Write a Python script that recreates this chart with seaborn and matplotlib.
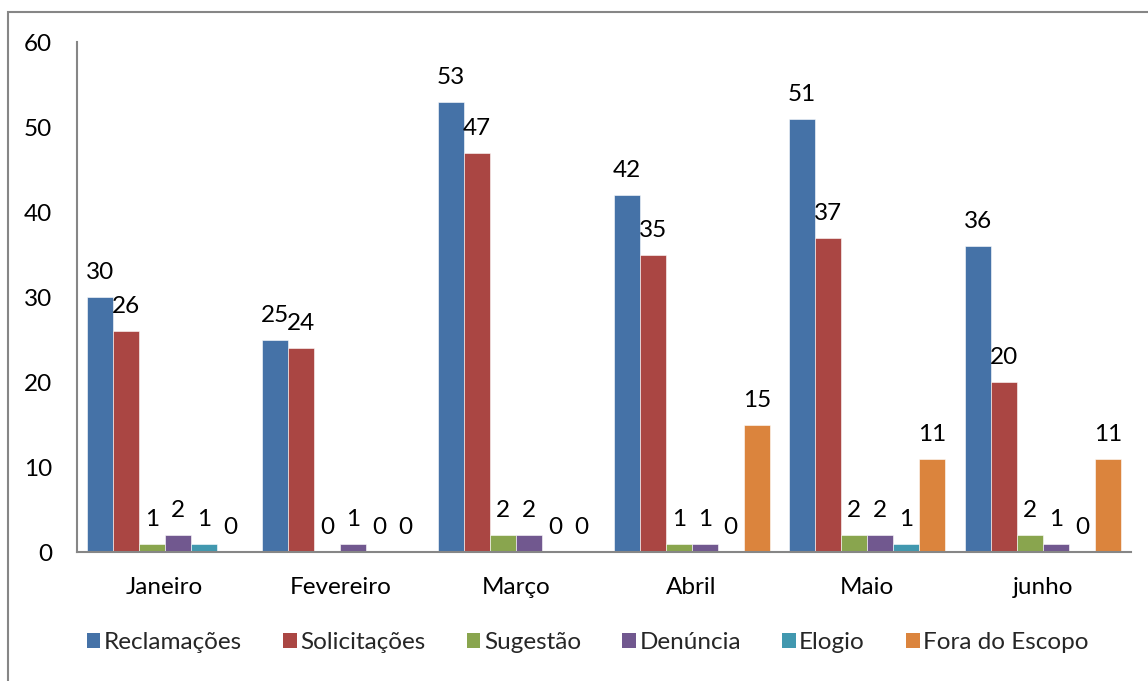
'''
Grouped bar chart of ombudsman records per month (Janeiro - junho)
'''
import matplotlib
matplotlib.use('Agg')
import matplotlib.pyplot as plt
from matplotlib.patches import Rectangle, Patch
import pandas as pd
import seaborn as sns

# categories and series
meses = ['Janeiro', 'Fevereiro', 'Março', 'Abril', 'Maio', 'junho']
tipos = ['Reclamações', 'Solicitações', 'Sugestão', 'Denúncia',
         'Elogio', 'Fora do Escopo']

reclamacoes = [30, 25, 53, 42, 51, 36]
solicitacoes = [26, 24, 47, 35, 37, 20]
sugestao = [1, 0, 2, 1, 2, 2]
denuncia = [2, 1, 2, 1, 2, 1]
elogio = [1, 0, 0, 0, 1, 0]
fora_escopo = [0, 0, 0, 15, 11, 11]

cores = ['#4572A7', '#AA4643', '#89A54E', '#71588F', '#4198AF', '#DB843D']

# long-form table for seaborn
series = [reclamacoes, solicitacoes, sugestao, denuncia, elogio, fora_escopo]
rows = []
for tipo, valores in zip(tipos, series):
    for mes, val in zip(meses, valores):
        rows.append({'Mês': mes, 'Tipo': tipo, 'Valor': val})
df = pd.DataFrame(rows)

sns.set_theme(style='white')
plt.rcParams['font.family'] = ['Lato', 'DejaVu Sans']
FS = 17.5

fig = plt.figure(figsize=(11.48, 6.81), dpi=100)
ax = fig.add_axes([0.067, 0.189, 0.918, 0.749])

sns.barplot(data=df, x='Mês', y='Valor', hue='Tipo', order=meses,
            hue_order=tipos, palette=cores, saturation=1, width=0.89,
            gap=0, ax=ax, legend=False, errorbar=None,
            edgecolor='white', linewidth=0.4)

# data labels
for cont in ax.containers:
    ax.bar_label(cont, padding=10, fontsize=FS, color='black')

ax.set_ylim(0, 60)
ax.set_xlim(-0.5, 5.5)
ax.set_yticks(range(0, 61, 10))
ax.set_xlabel('')
ax.set_ylabel('')
ax.tick_params(axis='y', length=0, pad=18, labelsize=FS, labelcolor='black')
ax.tick_params(axis='x', length=0, pad=18, labelsize=FS, labelcolor='black')

for side in ['top', 'right']:
    ax.spines[side].set_visible(False)
for side in ['left', 'bottom']:
    ax.spines[side].set_color('#868686')
    ax.spines[side].set_linewidth(1.5)

# legend
handles = [Patch(facecolor=c, edgecolor='none') for c in cores]
fig.legend(handles, tipos, loc='center', bbox_to_anchor=(0.512, 0.056),
           ncol=6, frameon=False, fontsize=FS, handlelength=0.55,
           handleheight=0.55, handletextpad=0.15, columnspacing=1.7)

# outer chart border
fig.patches.append(Rectangle((8 / 1148, -0.1), 1.2, 1.1 - 12 / 681,
                             transform=fig.transFigure, fill=False,
                             edgecolor='#868686', linewidth=1.5))

fig.savefig('out.png', dpi=100)
plt.close(fig)
